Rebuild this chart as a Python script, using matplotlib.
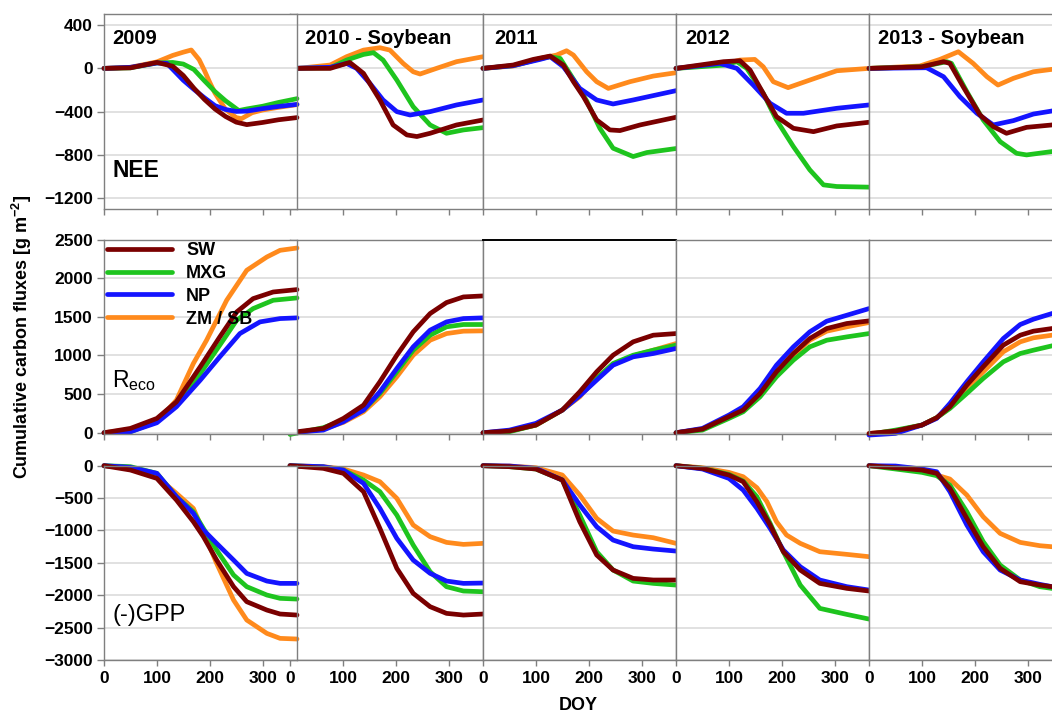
import numpy as np
import matplotlib
matplotlib.use('Agg')
import matplotlib.pyplot as plt

#%% Dados (DOY, fluxo acumulado)

series = ['SW', 'MXG', 'NP', 'ZM / SB']
years = ['2009', '2010 - Soybean', '2011', '2012', '2013 - Soybean']

# NEE
nee_2009 = {
    'SW': [(0, 0), (50, 5), (100, 55), (130, 20), (150, -66), (170, -183), (190, -287), (210, -376),
           (230, -445), (250, -497), (270, -520), (300, -500), (330, -475), (365, -455)],
    'MXG': [(0, 0), (50, 5), (100, 50), (130, 55), (150, 40), (170, -10), (190, -115), (210, -215),
            (230, -300), (255, -390), (270, -375), (300, -350), (330, -315), (365, -280)],
    'NP': [(0, 0), (50, 10), (100, 50), (119, 46), (130, -9), (150, -110), (170, -194), (190, -272),
           (210, -345), (230, -380), (250, -398), (270, -395), (300, -372), (330, -352), (365, -333)],
    'ZM / SB': [(0, 0), (50, 10), (100, 60), (130, 120), (150, 150), (165, 170), (180, 80), (190, -20),
                (200, -130), (210, -230), (230, -380), (250, -455), (260, -465), (280, -410), (300, -385),
                (330, -360), (365, -335)],
}
nee_2010 = {
    'SW': [(0, 0), (76, 0), (113, 55), (139, -46), (170, -292), (195, -523), (221, -615), (240, -630),
           (265, -600), (315, -523), (365, -477)],
    'MXG': [(0, 0), (76, 5), (107, 77), (139, 129), (158, 145), (176, 77), (202, -108), (233, -354),
            (265, -523), (296, -600), (328, -569), (365, -548)],
    'NP': [(0, 0), (76, 10), (107, 46), (126, 0), (151, -138), (176, -292), (202, -400), (227, -431),
           (265, -400), (315, -338), (365, -292)],
    'ZM / SB': [(0, 0), (14, 0), (76, 31), (107, 108), (139, 169), (170, 191), (189, 169), (214, 46),
                (233, -31), (246, -52), (277, 0), (315, 62), (365, 108)],
}
nee_2011 = {
    'SW': [(0, 0), (57, 31), (95, 83), (127, 114), (152, 31), (171, -123), (190, -262), (215, -477),
           (240, -569), (259, -575), (297, -523), (365, -452)],
    'MXG': [(0, 0), (57, 25), (108, 90), (127, 108), (146, 92), (171, -100), (196, -300), (221, -554),
            (246, -738), (284, -815), (310, -778), (365, -741)],
    'NP': [(0, 0), (57, 25), (108, 83), (127, 108), (152, 15), (183, -185), (215, -292), (246, -329),
           (284, -292), (365, -206)],
    'ZM / SB': [(0, 0), (57, 22), (108, 92), (139, 123), (158, 163), (171, 123), (196, -31), (215, -123),
                (237, -185), (278, -123), (322, -71), (365, -40)],
}
nee_2012 = {
    'SW': [(0, 0), (90, 62), (121, 71), (140, -15), (165, -231), (190, -446), (222, -554), (260, -585),
           (304, -532), (365, -498)],
    'MXG': [(0, 0), (90, 30), (115, 62), (134, 0), (165, -231), (190, -477), (222, -723), (253, -938),
            (279, -1077), (304, -1092), (365, -1098)],
    'NP': [(0, 0), (83, 46), (115, 0), (146, -154), (178, -323), (209, -415), (241, -415), (304, -369),
           (365, -338)],
    'ZM / SB': [(0, 0), (96, 46), (121, 77), (149, 83), (165, 15), (184, -123), (212, -178), (253, -108),
                (304, -22), (365, 0)],
}
nee_2013 = {
    'SW': [(0, 0), (100, 15), (141, 62), (153, 46), (178, -169), (210, -431), (235, -538), (260, -600),
           (298, -545), (346, -523), (365, -515)],
    'MXG': [(0, 0), (100, 15), (147, 62), (156, 46), (185, -215), (216, -477), (248, -677), (279, -785),
            (298, -800), (346, -769), (365, -760)],
    'NP': [(0, 0), (109, 6), (141, -77), (172, -262), (204, -415), (235, -523), (273, -483), (311, -422),
           (346, -394), (365, -380)],
    'ZM / SB': [(0, 0), (96, 22), (134, 83), (169, 154), (197, 46), (223, -77), (244, -154), (273, -92),
                (311, -31), (346, -9), (365, 0)],
}

# Reco
reco_2009 = {
    'SW': [(0, 0), (50, 56), (100, 185), (137, 400), (182, 853), (219, 1240), (251, 1563), (282, 1735),
           (320, 1821), (365, 1852)],
    'MXG': [(0, 0), (50, 13), (100, 142), (137, 379), (182, 766), (219, 1133), (251, 1456), (282, 1606),
            (320, 1714), (365, 1744)],
    'NP': [(0, 0), (50, 13), (100, 129), (137, 336), (182, 680), (219, 982), (257, 1283), (295, 1434),
           (333, 1477), (365, 1486)],
    'ZM / SB': [(0, 0), (50, 43), (100, 142), (137, 422), (169, 896), (194, 1197), (232, 1714), (270, 2102),
                (308, 2274), (333, 2360), (365, 2390)],
}
reco_2010 = {
    'SW': [(0, 0), (14, 13), (63, 56), (101, 185), (139, 357), (170, 659), (202, 1003), (233, 1305),
           (265, 1542), (296, 1684), (328, 1757), (365, 1770)],
    'MXG': [(0, -22), (63, 65), (101, 164), (139, 293), (170, 508), (202, 788), (233, 1068), (265, 1262),
            (296, 1370), (328, 1400), (365, 1400)],
    'NP': [(0, 0), (63, 34), (101, 142), (139, 293), (170, 530), (202, 831), (233, 1111), (265, 1327),
           (296, 1434), (328, 1477), (365, 1486)],
    'ZM / SB': [(0, -9), (63, 47), (101, 134), (139, 271), (170, 465), (202, 724), (233, 1003), (265, 1197),
                (296, 1283), (328, 1314), (365, 1318)],
}
reco_2011 = {
    'SW': [(0, 0), (50, 22), (100, 99), (150, 293), (183, 530), (215, 788), (246, 1003), (284, 1176),
           (322, 1262), (365, 1283)],
    'MXG': [(0, 0), (50, 13), (100, 99), (150, 293), (183, 487), (215, 702), (246, 896), (284, 1003),
            (322, 1068), (365, 1133)],
    'NP': [(0, 0), (50, 34), (100, 121), (150, 293), (183, 478), (215, 681), (246, 874), (284, 982),
           (322, 1025), (365, 1090)],
    'ZM / SB': [(0, 0), (50, 22), (100, 99), (150, 293), (183, 465), (215, 711), (246, 883), (284, 995),
                (322, 1068), (365, 1154)],
}
reco_2011_dash = [(0, 0), (50, 10), (100, 90), (150, 280), (183, 470), (215, 700), (246, 885), (284, 1000),
                  (322, 1070), (365, 1150)]
reco_2012 = {
    'SW': [(0, 0), (50, 47), (100, 207), (127, 293), (159, 508), (190, 788), (222, 1025), (253, 1219),
           (285, 1348), (323, 1413), (365, 1447)],
    'MXG': [(0, 0), (50, 34), (100, 185), (127, 271), (159, 465), (190, 724), (222, 939), (253, 1111),
            (285, 1197), (323, 1240), (365, 1283)],
    'NP': [(0, 0), (50, 56), (100, 228), (127, 336), (159, 573), (190, 874), (222, 1111), (253, 1305),
           (285, 1443), (323, 1520), (365, 1606)],
    'ZM / SB': [(0, 0), (50, 47), (100, 207), (127, 293), (159, 508), (190, 767), (222, 1003), (253, 1197),
                (285, 1314), (323, 1370), (365, 1426)],
}
reco_2013 = {
    'SW': [(0, -10), (50, 22), (100, 99), (128, 194), (153, 336), (185, 616), (216, 853), (254, 1133),
           (286, 1262), (311, 1314), (346, 1348), (365, 1360)],
    'MXG': [(0, -22), (50, 34), (100, 99), (128, 194), (153, 314), (185, 508), (216, 702), (254, 917),
            (286, 1025), (311, 1068), (346, 1124), (365, 1140)],
    'NP': [(0, -30), (50, -9), (100, 99), (128, 185), (153, 379), (185, 659), (216, 917), (254, 1219),
           (286, 1400), (311, 1469), (346, 1542), (365, 1570)],
    'ZM / SB': [(0, -10), (50, 22), (100, 99), (128, 194), (153, 323), (185, 573), (216, 788), (254, 1047),
                (286, 1176), (311, 1228), (346, 1262), (365, 1270)],
}

# (-)GPP
gpp_2009 = {
    'SW': [(0, 0), (50, -67), (100, -196), (137, -530), (169, -865), (188, -1096), (213, -1457),
           (245, -1868), (270, -2100), (308, -2229), (333, -2290), (365, -2306)],
    'MXG': [(0, 0), (50, -15), (100, -118), (137, -479), (169, -710), (188, -968), (213, -1302),
            (245, -1688), (270, -1868), (308, -1997), (333, -2048), (365, -2059)],
    'NP': [(0, 0), (50, -26), (100, -118), (137, -479), (169, -736), (188, -993), (213, -1199),
           (245, -1457), (270, -1663), (308, -1781), (333, -1817), (365, -1817)],
    'ZM / SB': [(0, 0), (50, -41), (100, -170), (137, -427), (169, -659), (188, -1019), (213, -1508),
                (245, -2074), (270, -2383), (308, -2589), (333, -2666), (365, -2676)],
}
gpp_2010 = {
    'SW': [(0, 0), (63, -41), (101, -118), (139, -401), (170, -968), (202, -1585), (233, -1971),
           (265, -2177), (296, -2280), (328, -2306), (365, -2290)],
    'MXG': [(0, 0), (63, -21), (101, -67), (139, -221), (170, -401), (202, -762), (233, -1225),
            (265, -1637), (296, -1868), (328, -1935), (365, -1946)],
    'NP': [(0, 0), (63, -15), (101, -67), (139, -273), (170, -659), (202, -1122), (233, -1457),
           (265, -1662), (296, -1781), (328, -1817), (365, -1812)],
    'ZM / SB': [(0, 0), (63, -15), (101, -51), (139, -144), (170, -247), (202, -504), (233, -916),
                (265, -1096), (296, -1184), (328, -1215), (365, -1199)],
}
gpp_2011 = {
    'SW': [(0, 0), (50, -15), (100, -51), (150, -221), (183, -865), (215, -1379), (246, -1611),
           (284, -1740), (322, -1765), (365, -1765)],
    'MXG': [(0, 0), (50, -15), (100, -51), (150, -221), (183, -762), (215, -1328), (246, -1611),
            (284, -1781), (322, -1817), (365, -1843)],
    'NP': [(0, 0), (50, -5), (100, -41), (150, -221), (183, -607), (215, -942), (246, -1148),
           (284, -1251), (322, -1287), (365, -1318)],
    'ZM / SB': [(0, 0), (50, -5), (100, -31), (150, -144), (183, -453), (215, -813), (246, -1009),
                (284, -1071), (322, -1112), (365, -1199)],
}
gpp_2012 = {
    'SW': [(0, 0), (50, -41), (100, -144), (127, -247), (153, -556), (178, -916), (203, -1328),
           (235, -1611), (272, -1817), (323, -1894), (365, -1935)],
    'MXG': [(0, 0), (50, -41), (100, -134), (127, -237), (153, -479), (178, -890), (203, -1328),
            (235, -1843), (272, -2203), (323, -2296), (365, -2368)],
    'NP': [(0, 0), (50, -51), (100, -196), (127, -376), (153, -659), (178, -968), (203, -1302),
           (235, -1560), (272, -1765), (323, -1868), (365, -1920)],
    'ZM / SB': [(0, 0), (50, -31), (100, -103), (127, -170), (153, -340), (172, -556), (190, -864),
                (209, -1070), (235, -1199), (272, -1328), (323, -1369), (365, -1405)],
}
gpp_2013 = {
    'SW': [(0, 0), (50, -31), (100, -67), (128, -118), (153, -350), (185, -813), (216, -1251),
           (248, -1585), (286, -1791), (323, -1843), (346, -1868), (365, -1880)],
    'MXG': [(0, 0), (50, -51), (100, -103), (128, -154), (153, -299), (185, -710), (216, -1173),
            (248, -1534), (286, -1765), (323, -1868), (346, -1894), (365, -1900)],
    'NP': [(0, 0), (50, -5), (100, -51), (128, -93), (153, -401), (185, -916), (216, -1328),
           (248, -1611), (286, -1765), (323, -1832), (346, -1868), (365, -1880)],
    'ZM / SB': [(0, 0), (50, -21), (100, -51), (128, -144), (153, -206), (185, -453), (216, -788),
                (248, -1045), (286, -1184), (323, -1235), (346, -1251), (365, -1260)],
}

rows = [
    [nee_2009, nee_2010, nee_2011, nee_2012, nee_2013],
    [reco_2009, reco_2010, reco_2011, reco_2012, reco_2013],
    [gpp_2009, gpp_2010, gpp_2011, gpp_2012, gpp_2013],
]
row_names = ['NEE', r'R$_{\mathregular{eco}}$', '(-)GPP']
row_ylim = [(-1300, 500), (-10, 2500), (-3000, 0)]
row_yticks = [[-1200, -800, -400, 0, 400], [0, 500, 1000, 1500, 2000, 2500],
              [-3000, -2500, -2000, -1500, -1000, -500, 0]]
doy_ticks = [0, 100, 200, 300]

cores = {'SW': '#7a0000', 'MXG': '#1ec41e', 'NP': '#1414ff', 'ZM / SB': '#ff8a1c'}
ordem = ['ZM / SB', 'MXG', 'NP', 'SW']

#%% Layout (pixels)

plt.rcParams['font.family'] = ['Liberation Sans', 'DejaVu Sans']
plt.rcParams['mathtext.fontset'] = 'custom'
plt.rcParams['mathtext.rm'] = 'Liberation Sans'
plt.rcParams['mathtext.bf'] = 'Liberation Sans:bold'

W, H = 1052, 716
fig = plt.figure(figsize=(W / 100, H / 100), dpi=100)

x0 = [104, 290, 483, 676, 869]
pw = 193
row_top = [14.3, 239.5, 465.7]
row_h = [194.7, 194.0, 194.3]
cinza = '#7f7f7f'

for r in range(3):
    for c in range(5):
        ax = fig.add_axes([x0[c] / W, 1 - (row_top[r] + row_h[r]) / H, pw / W, row_h[r] / H])
        ax.set_zorder(2 if c == 0 else 1)
        ax.set_facecolor('white')
        ax.set_xlim(0, 365)
        ax.set_ylim(*row_ylim[r])
        ax.set_xticks(doy_ticks)
        ax.set_yticks(row_yticks[r])
        ax.yaxis.grid(True, color='#d9d9d9', lw=1.1)
        ax.set_axisbelow(True)
        for s in ax.spines.values():
            s.set_color(cinza)
            s.set_linewidth(1.0)
        if r == 1 and c == 2:
            ax.spines['top'].set_color('black')
            ax.spines['top'].set_linewidth(1.4)
        ax.tick_params(axis='x', direction='out', length=4, width=1, color=cinza,
                       labelbottom=(r == 2), labelsize=12.5, pad=4)
        if c == 0:
            ax.tick_params(axis='y', direction='out', length=5, width=1, color=cinza,
                           labelsize=12.5, pad=3)
        else:
            ax.tick_params(axis='y', length=0, labelleft=False)
        for lab in ax.get_xticklabels() + ax.get_yticklabels():
            lab.set_fontweight('bold')

        dados = rows[r][c]
        for nome in ordem:
            pts = np.array(dados[nome])
            ax.plot(pts[:, 0], pts[:, 1], color=cores[nome], lw=3.4, clip_on=False,
                    solid_capstyle='round', solid_joinstyle='round', label=nome)
        if r == 1 and c == 2:
            pts = np.array(reco_2011_dash)
            ax.plot(pts[:, 0], pts[:, 1], color='black', lw=1, ls=(0, (3, 3)), zorder=1.5)

        if r == 1 and c == 0:
            hs, ls = ax.get_legend_handles_labels()
            mapa = dict(zip(ls, hs))
            ax.legend([mapa[n] for n in series], series, loc='upper left',
                      bbox_to_anchor=(0.0, 1.0), frameon=False, borderpad=0.1,
                      borderaxespad=0.05, handlelength=3.6, handletextpad=0.8,
                      labelspacing=0.32, prop={'size': 13, 'weight': 'bold'})

#%% Textos

def px_text(x, y, s, **kw):
    fig.text(x / W, 1 - y / H, s, **kw)

tx = [112, 305, 494, 685, 878]
for c in range(5):
    px_text(tx[c], 44, years[c], fontsize=14.5, fontweight='bold', va='baseline', zorder=5)

px_text(112, 177, row_names[0], fontsize=16.5, fontweight='bold', va='baseline', zorder=5)
px_text(112, 387, row_names[1], fontsize=16.5, va='baseline', zorder=5)
px_text(112, 621, row_names[2], fontsize=17, va='baseline', zorder=5)

px_text(22, 337, r'Cumulative carbon fluxes [g m$^{\mathbf{-2}}$]', fontsize=13,
        fontweight='bold', rotation=90, ha='center', va='center')
px_text(578, 705, 'DOY', fontsize=13, fontweight='bold', ha='center', va='center')

fig.savefig('out.png', dpi=100)
